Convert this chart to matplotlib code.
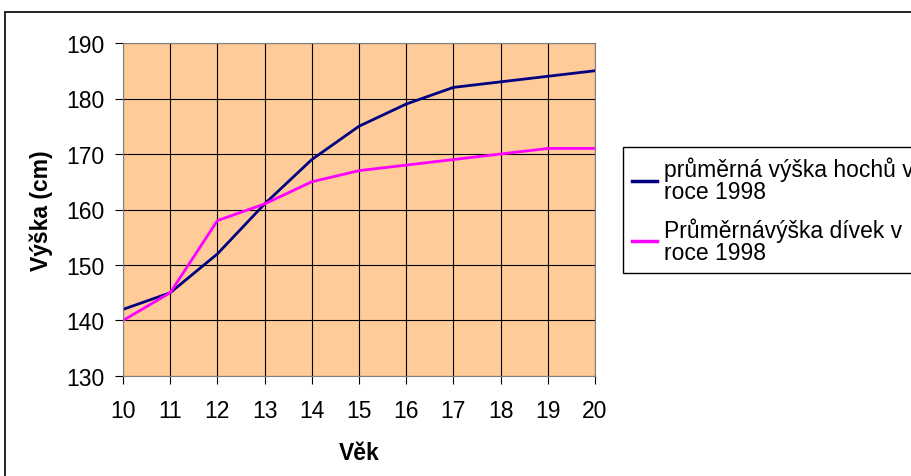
import matplotlib.pyplot as plt
from matplotlib.patches import Rectangle

plt.rcParams['font.family'] = ['Liberation Sans', 'DejaVu Sans']

# ages and average heights in 1998
vek = [10, 11, 12, 13, 14, 15, 16, 17, 18, 19, 20]
hosi = [142, 145, 152, 161, 169, 175, 179, 182, 183, 184, 185]
divky = [140, 145, 158, 161, 165, 167, 168, 169, 170, 171, 171]
y_ticks = [130, 140, 150, 160, 170, 180, 190]

FS = 16.5

fig = plt.figure(figsize=(9.11, 4.77), dpi=100)
ax = fig.add_axes([123 / 911, 1 - 377 / 477, 472 / 911, 333 / 477])
ax.set_facecolor('#FFCC99')

ax.plot(vek, hosi, color='#000080', lw=2.0, label='průměrná výška hochů v\nroce 1998')
ax.plot(vek, divky, color='#FF00FF', lw=2.0, label='Průměrnávýška dívek v\nroce 1998')

ax.set_xlim(10, 20)
ax.set_ylim(130, 190)
ax.set_xticks(vek)
ax.set_yticks(y_ticks)
ax.grid(True, color='black', lw=0.8)
ax.set_axisbelow(True)
for s in ax.spines.values():
    s.set_color('#808080')
ax.tick_params(labelsize=FS, length=5.5, color='black', direction='out')
ax.tick_params(axis='y', pad=8)
ax.tick_params(axis='x', pad=11)

ax.set_xlabel('Věk', fontsize=FS, fontweight='bold', labelpad=14)
ax.set_ylabel('Výška (cm)', fontsize=FS, fontweight='bold', labelpad=9)

leg = fig.legend(loc='upper left', bbox_to_anchor=(623 / 911, 1 - 148 / 477),
                 borderaxespad=0, fontsize=FS, fancybox=False, framealpha=1,
                 edgecolor='black', handlelength=1.1, handletextpad=0.3,
                 borderpad=0.4, labelspacing=0.6)
leg.get_frame().set_linewidth(1.0)
for t in leg.get_texts():
    t.set_linespacing(0.97)
for h in leg.get_lines():
    h.set_linewidth(2.5)

# chart area border
fig.patches.append(Rectangle((5 / 911, -0.1), 1.2, 1 - 13 / 477 + 0.1, transform=fig.transFigure,
                             fill=False, edgecolor='black', lw=1.2))

fig.savefig('out.png', dpi=100)
